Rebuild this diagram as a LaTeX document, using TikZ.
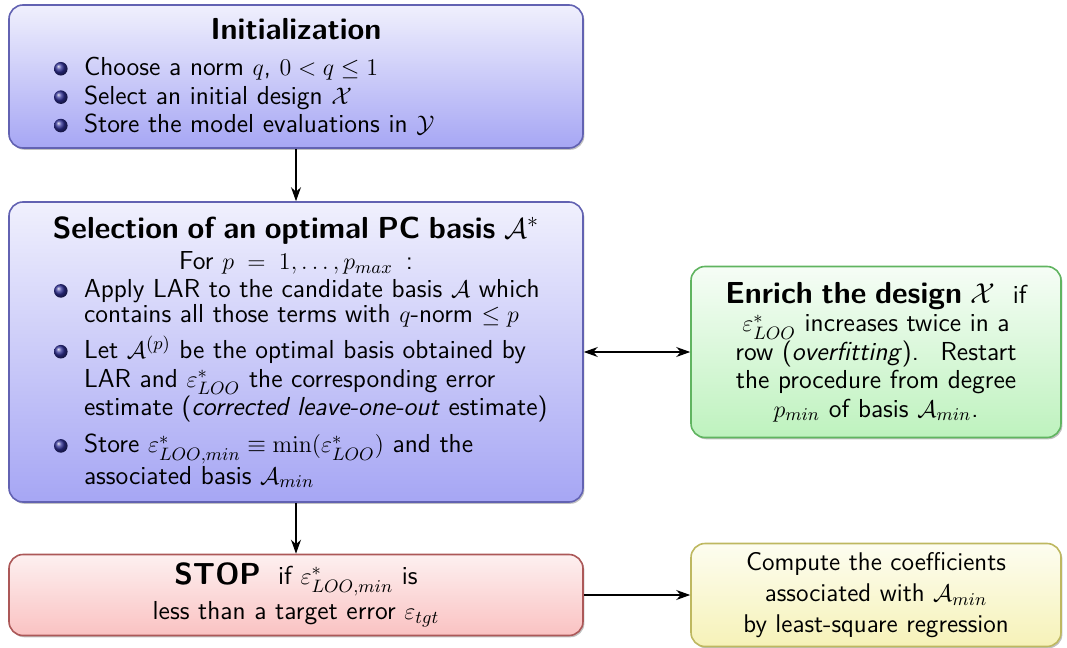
\documentclass[tikz,border=0pt]{standalone}
\usepackage{amsmath,amssymb}
\usetikzlibrary{arrows.meta,shadows}

\definecolor{blueline}{RGB}{98,98,178}
\definecolor{bluetop}{RGB}{240,240,253}
\definecolor{bluebot}{RGB}{166,166,244}
\definecolor{greenline}{RGB}{96,180,96}
\definecolor{greentop}{RGB}{246,253,246}
\definecolor{greenbot}{RGB}{190,242,190}
\definecolor{redline}{RGB}{172,88,88}
\definecolor{redtop}{RGB}{253,240,240}
\definecolor{redbot}{RGB}{250,194,194}
\definecolor{yellowline}{RGB}{190,184,96}
\definecolor{yellowtop}{RGB}{253,253,240}
\definecolor{yellowbot}{RGB}{246,242,184}
\definecolor{ballblue}{RGB}{48,48,150}

\newlength{\bulletind}
\setlength{\bulletind}{15pt}
\newcommand{\ballbullet}{\tikz[baseline=-0.6ex]\shade[ball color=ballblue] (0,0) circle (3.4pt);}
\newcommand{\bitem}[1]{\par\noindent\leftskip=14pt\hangindent=\bulletind\hangafter=1%
  \makebox[\bulletind][l]{\ballbullet}#1\par}
\newcommand{\boxtitle}{\fontsize{15.2}{18}\selectfont\bfseries}

\begin{document}
\begin{tikzpicture}[x=0.5pt,y=-0.5pt,>={Stealth[length=7pt,width=5pt]},
    box/.style={draw,rounded corners=7pt,line width=0.8pt,inner sep=0pt,
      font=\sffamily\fontsize{13}{14.2}\selectfont,
      drop shadow={shadow xshift=0.7pt,shadow yshift=-0.9pt,opacity=0.35,fill=black!70}},
    bluebox/.style={box,draw=blueline,top color=bluetop,bottom color=bluebot},
    greenbox/.style={box,draw=greenline,top color=greentop,bottom color=greenbot},
    redbox/.style={box,draw=redline,top color=redtop,bottom color=redbot},
    yellowbox/.style={box,draw=yellowline,top color=yellowtop,bottom color=yellowbot}]
    \useasboundingbox (0,0) rectangle (1067,648);

    % left column
    \node[bluebox,minimum width=287pt,minimum height=71.5pt,text width=270pt] (init) at (296,76.5) {%
      {\centering\boxtitle Initialization\par}\vspace{4pt}\raggedright
      \bitem{Choose a norm $q$, $0<q\leq 1$}
      \bitem{Select an initial design $\mathcal{X}$}
      \bitem{Store the model evaluations in $\mathcal{Y}$}\vspace{2pt}};
    \node[bluebox,minimum width=287pt,minimum height=150pt,text width=270pt] (sel) at (296,352) {%
      {\centering\boxtitle Selection of an optimal PC basis $\mathcal{A}^*$\par}\vspace{1.5pt}
      {\centering For $p \;=\; 1,\ldots,p_{max}$ \,:\par}\raggedright
      \bitem{Apply LAR to the candidate basis $\mathcal{A}$ which\vadjust{\kern-2pt}\newline contains all those terms with $q$-norm $\leq p$}
      \vspace{4pt}
      \bitem{Let $\mathcal{A}^{(p)}$ be the optimal basis obtained by\newline LAR and $\varepsilon^*_{LOO}$ the corresponding error\newline estimate (\textit{corrected leave-one-out} estimate)}
      \vspace{4.5pt}
      \bitem{Store $\varepsilon^*_{LOO,min}\equiv\min(\varepsilon^*_{LOO})$ and the\newline associated basis $\mathcal{A}_{min}$}\vspace{1pt}};
    \node[redbox,minimum width=287pt,minimum height=40.5pt,text width=270pt,align=center] (stop) at (296,595) {%
      {\boxtitle STOP}\ \ if $\varepsilon^*_{LOO,min}$ is\\[2pt]
      less than a target error $\varepsilon_{tgt}$};

    % right column
    \node[greenbox,minimum width=185pt,minimum height=85.5pt,text width=175pt,align=center] (enrich) at (876,352) {%
      {\boxtitle Enrich the design $\mathcal{X}$}\ \ if\\
      $\varepsilon^*_{LOO}$ increases twice in a\\
      row (\textit{overfitting}). \ Restart\\
      the procedure from degree\\
      $p_{min}$ of basis $\mathcal{A}_{min}$.\\[3pt]};
    \node[yellowbox,minimum width=185pt,minimum height=51.5pt,text width=175pt,align=center,
      font=\sffamily\fontsize{12.8}{15.5}\selectfont] (comp) at (876,595) {%
      Compute the coefficients\\
      associated with $\mathcal{A}_{min}$\\
      by least-square regression};

    \draw[->,line width=0.6pt] (init.south) -- (sel.north);
    \draw[->,line width=0.6pt] (sel.south) -- (stop.north);
    \draw[<->,line width=0.6pt] (sel.east) -- (enrich.west);
    \draw[->,line width=0.6pt] (stop.east) -- (comp.west);
\end{tikzpicture}
\end{document}
